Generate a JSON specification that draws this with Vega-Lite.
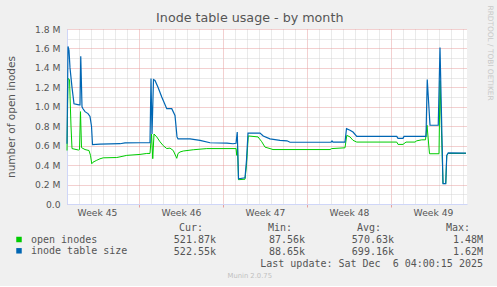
{
"$schema": "https://vega.github.io/schema/vega-lite/v6.json",
"background": "#f0f0f0",
"padding": {"left": 6, "top": 5, "right": 4, "bottom": 6},
"config": {"view": {"stroke": null}, "font": "DejaVu Sans"},
"title": {"text": "Munin 2.0.75", "orient": "bottom", "anchor": "middle", "frame": "bounds", "font": "DejaVu Sans", "fontSize": 6.8, "fontWeight": "normal", "color": "#c0c0c0", "offset": 3},
"bounds": "flush",
"spacing": 18,
"datasets": {
"series": [
{"t":"2025-11-04T00:00:00Z","s":"inode table size","v":620000},
{"t":"2025-11-04T02:00:00Z","s":"inode table size","v":1620000},
{"t":"2025-11-04T04:00:00Z","s":"inode table size","v":1580000},
{"t":"2025-11-04T06:00:00Z","s":"inode table size","v":1400000},
{"t":"2025-11-04T10:00:00Z","s":"inode table size","v":1200000},
{"t":"2025-11-04T14:00:00Z","s":"inode table size","v":1030000},
{"t":"2025-11-05T00:00:00Z","s":"inode table size","v":1020000},
{"t":"2025-11-05T02:00:00Z","s":"inode table size","v":1020000},
{"t":"2025-11-05T03:30:00Z","s":"inode table size","v":1520000},
{"t":"2025-11-05T06:00:00Z","s":"inode table size","v":1000000},
{"t":"2025-11-05T08:00:00Z","s":"inode table size","v":980000},
{"t":"2025-11-05T12:00:00Z","s":"inode table size","v":950000},
{"t":"2025-11-05T18:00:00Z","s":"inode table size","v":930000},
{"t":"2025-11-05T22:00:00Z","s":"inode table size","v":900000},
{"t":"2025-11-06T01:00:00Z","s":"inode table size","v":800000},
{"t":"2025-11-06T03:00:00Z","s":"inode table size","v":610000},
{"t":"2025-11-06T18:00:00Z","s":"inode table size","v":615000},
{"t":"2025-11-07T14:00:00Z","s":"inode table size","v":618000},
{"t":"2025-11-08T10:00:00Z","s":"inode table size","v":620000},
{"t":"2025-11-08T20:00:00Z","s":"inode table size","v":628000},
{"t":"2025-11-10T02:00:00Z","s":"inode table size","v":630000},
{"t":"2025-11-10T22:00:00Z","s":"inode table size","v":630000},
{"t":"2025-11-11T00:00:00Z","s":"inode table size","v":1290000},
{"t":"2025-11-11T02:00:00Z","s":"inode table size","v":720000},
{"t":"2025-11-11T05:00:00Z","s":"inode table size","v":1280000},
{"t":"2025-11-11T08:00:00Z","s":"inode table size","v":1270000},
{"t":"2025-11-11T14:00:00Z","s":"inode table size","v":1200000},
{"t":"2025-11-11T21:30:00Z","s":"inode table size","v":1100000},
{"t":"2025-11-12T07:30:00Z","s":"inode table size","v":980000},
{"t":"2025-11-12T17:30:00Z","s":"inode table size","v":980000},
{"t":"2025-11-13T00:00:00Z","s":"inode table size","v":910000},
{"t":"2025-11-13T04:00:00Z","s":"inode table size","v":690000},
{"t":"2025-11-13T06:00:00Z","s":"inode table size","v":670000},
{"t":"2025-11-14T06:00:00Z","s":"inode table size","v":670000},
{"t":"2025-11-15T02:00:00Z","s":"inode table size","v":655000},
{"t":"2025-11-15T22:00:00Z","s":"inode table size","v":630000},
{"t":"2025-11-17T08:00:00Z","s":"inode table size","v":627000},
{"t":"2025-11-17T20:00:00Z","s":"inode table size","v":620000},
{"t":"2025-11-18T02:00:00Z","s":"inode table size","v":625000},
{"t":"2025-11-18T04:30:00Z","s":"inode table size","v":740000},
{"t":"2025-11-18T07:00:00Z","s":"inode table size","v":260000},
{"t":"2025-11-18T20:00:00Z","s":"inode table size","v":270000},
{"t":"2025-11-18T23:00:00Z","s":"inode table size","v":450000},
{"t":"2025-11-19T02:00:00Z","s":"inode table size","v":730000},
{"t":"2025-11-20T02:00:00Z","s":"inode table size","v":730000},
{"t":"2025-11-20T08:30:00Z","s":"inode table size","v":700000},
{"t":"2025-11-20T22:00:00Z","s":"inode table size","v":670000},
{"t":"2025-11-21T18:00:00Z","s":"inode table size","v":655000},
{"t":"2025-11-22T08:00:00Z","s":"inode table size","v":650000},
{"t":"2025-11-22T14:00:00Z","s":"inode table size","v":635000},
{"t":"2025-11-26T00:00:00Z","s":"inode table size","v":637000},
{"t":"2025-11-26T02:00:00Z","s":"inode table size","v":648000},
{"t":"2025-11-26T04:00:00Z","s":"inode table size","v":637000},
{"t":"2025-11-27T04:00:00Z","s":"inode table size","v":637000},
{"t":"2025-11-27T07:00:00Z","s":"inode table size","v":775000},
{"t":"2025-11-27T14:00:00Z","s":"inode table size","v":758000},
{"t":"2025-11-27T20:00:00Z","s":"inode table size","v":740000},
{"t":"2025-11-28T03:30:00Z","s":"inode table size","v":695000},
{"t":"2025-12-01T11:30:00Z","s":"inode table size","v":695000},
{"t":"2025-12-01T14:00:00Z","s":"inode table size","v":675000},
{"t":"2025-12-02T00:00:00Z","s":"inode table size","v":675000},
{"t":"2025-12-02T02:00:00Z","s":"inode table size","v":695000},
{"t":"2025-12-03T22:00:00Z","s":"inode table size","v":695000},
{"t":"2025-12-04T00:30:00Z","s":"inode table size","v":1280000},
{"t":"2025-12-04T06:00:00Z","s":"inode table size","v":810000},
{"t":"2025-12-04T22:30:00Z","s":"inode table size","v":810000},
{"t":"2025-12-05T02:00:00Z","s":"inode table size","v":1610000},
{"t":"2025-12-05T08:00:00Z","s":"inode table size","v":210000},
{"t":"2025-12-05T13:30:00Z","s":"inode table size","v":210000},
{"t":"2025-12-05T15:30:00Z","s":"inode table size","v":500000},
{"t":"2025-12-05T18:30:00Z","s":"inode table size","v":525000},
{"t":"2025-12-07T06:00:00Z","s":"inode table size","v":523000},
{"t":"2025-11-04T00:00:00Z","s":"open inodes","v":550000},
{"t":"2025-11-04T02:00:00Z","s":"open inodes","v":1290000},
{"t":"2025-11-04T05:00:00Z","s":"open inodes","v":1280000},
{"t":"2025-11-04T08:00:00Z","s":"open inodes","v":800000},
{"t":"2025-11-04T10:00:00Z","s":"open inodes","v":570000},
{"t":"2025-11-04T23:00:00Z","s":"open inodes","v":555000},
{"t":"2025-11-05T01:00:00Z","s":"open inodes","v":560000},
{"t":"2025-11-05T03:00:00Z","s":"open inodes","v":950000},
{"t":"2025-11-05T05:00:00Z","s":"open inodes","v":580000},
{"t":"2025-11-05T12:00:00Z","s":"open inodes","v":560000},
{"t":"2025-11-05T20:00:00Z","s":"open inodes","v":550000},
{"t":"2025-11-05T23:00:00Z","s":"open inodes","v":500000},
{"t":"2025-11-06T01:30:00Z","s":"open inodes","v":414000},
{"t":"2025-11-06T04:00:00Z","s":"open inodes","v":430000},
{"t":"2025-11-06T11:30:00Z","s":"open inodes","v":450000},
{"t":"2025-11-06T18:00:00Z","s":"open inodes","v":465000},
{"t":"2025-11-07T00:30:00Z","s":"open inodes","v":475000},
{"t":"2025-11-08T03:30:00Z","s":"open inodes","v":478000},
{"t":"2025-11-08T10:00:00Z","s":"open inodes","v":485000},
{"t":"2025-11-08T23:30:00Z","s":"open inodes","v":500000},
{"t":"2025-11-10T02:00:00Z","s":"open inodes","v":510000},
{"t":"2025-11-10T15:30:00Z","s":"open inodes","v":520000},
{"t":"2025-11-10T22:00:00Z","s":"open inodes","v":520000},
{"t":"2025-11-11T01:00:00Z","s":"open inodes","v":720000},
{"t":"2025-11-11T03:30:00Z","s":"open inodes","v":466000},
{"t":"2025-11-11T06:00:00Z","s":"open inodes","v":720000},
{"t":"2025-11-11T11:30:00Z","s":"open inodes","v":690000},
{"t":"2025-11-11T18:00:00Z","s":"open inodes","v":640000},
{"t":"2025-11-12T00:30:00Z","s":"open inodes","v":600000},
{"t":"2025-11-12T07:30:00Z","s":"open inodes","v":570000},
{"t":"2025-11-12T14:00:00Z","s":"open inodes","v":575000},
{"t":"2025-11-12T20:30:00Z","s":"open inodes","v":550000},
{"t":"2025-11-13T03:30:00Z","s":"open inodes","v":470000},
{"t":"2025-11-13T06:00:00Z","s":"open inodes","v":520000},
{"t":"2025-11-13T10:00:00Z","s":"open inodes","v":535000},
{"t":"2025-11-13T16:30:00Z","s":"open inodes","v":545000},
{"t":"2025-11-14T12:30:00Z","s":"open inodes","v":558000},
{"t":"2025-11-15T15:30:00Z","s":"open inodes","v":570000},
{"t":"2025-11-18T02:00:00Z","s":"open inodes","v":570000},
{"t":"2025-11-18T03:30:00Z","s":"open inodes","v":500000},
{"t":"2025-11-18T05:00:00Z","s":"open inodes","v":600000},
{"t":"2025-11-18T07:00:00Z","s":"open inodes","v":250000},
{"t":"2025-11-18T20:00:00Z","s":"open inodes","v":255000},
{"t":"2025-11-18T23:00:00Z","s":"open inodes","v":400000},
{"t":"2025-11-19T02:30:00Z","s":"open inodes","v":700000},
{"t":"2025-11-19T22:00:00Z","s":"open inodes","v":690000},
{"t":"2025-11-20T05:30:00Z","s":"open inodes","v":640000},
{"t":"2025-11-20T12:00:00Z","s":"open inodes","v":585000},
{"t":"2025-11-20T22:00:00Z","s":"open inodes","v":570000},
{"t":"2025-11-21T04:00:00Z","s":"open inodes","v":560000},
{"t":"2025-11-25T22:00:00Z","s":"open inodes","v":560000},
{"t":"2025-11-26T01:30:00Z","s":"open inodes","v":570000},
{"t":"2025-11-27T04:00:00Z","s":"open inodes","v":578000},
{"t":"2025-11-27T07:30:00Z","s":"open inodes","v":706000},
{"t":"2025-11-27T14:00:00Z","s":"open inodes","v":690000},
{"t":"2025-11-27T20:00:00Z","s":"open inodes","v":655000},
{"t":"2025-11-28T03:30:00Z","s":"open inodes","v":637000},
{"t":"2025-12-01T11:30:00Z","s":"open inodes","v":637000},
{"t":"2025-12-01T14:00:00Z","s":"open inodes","v":613000},
{"t":"2025-12-02T00:00:00Z","s":"open inodes","v":613000},
{"t":"2025-12-02T06:00:00Z","s":"open inodes","v":637000},
{"t":"2025-12-03T00:00:00Z","s":"open inodes","v":637000},
{"t":"2025-12-03T03:30:00Z","s":"open inodes","v":650000},
{"t":"2025-12-03T13:30:00Z","s":"open inodes","v":660000},
{"t":"2025-12-03T21:00:00Z","s":"open inodes","v":660000},
{"t":"2025-12-04T00:00:00Z","s":"open inodes","v":810000},
{"t":"2025-12-04T05:00:00Z","s":"open inodes","v":517000},
{"t":"2025-12-05T00:00:00Z","s":"open inodes","v":517000},
{"t":"2025-12-05T02:00:00Z","s":"open inodes","v":1270000},
{"t":"2025-12-05T08:00:00Z","s":"open inodes","v":210000},
{"t":"2025-12-05T13:30:00Z","s":"open inodes","v":210000},
{"t":"2025-12-05T15:30:00Z","s":"open inodes","v":500000},
{"t":"2025-12-05T18:30:00Z","s":"open inodes","v":520000},
{"t":"2025-12-07T06:00:00Z","s":"open inodes","v":521000}
],
"footer": [
{"row":"header","col":"cur","text":"Cur:"},
{"row":"header","col":"min","text":"Min:"},
{"row":"header","col":"avg","text":"Avg:"},
{"row":"header","col":"max","text":"Max:"},
{"row":"open inodes","col":"cur","text":"521.87k"},
{"row":"open inodes","col":"min","text":"87.56k"},
{"row":"open inodes","col":"avg","text":"570.63k"},
{"row":"open inodes","col":"max","text":"1.48M"},
{"row":"inode table size","col":"cur","text":"522.55k"},
{"row":"inode table size","col":"min","text":"88.65k"},
{"row":"inode table size","col":"avg","text":"699.16k"},
{"row":"inode table size","col":"max","text":"1.62M"},
{"row":"update","col":"max","text":"Last update: Sat Dec\u00a0 6 04:00:15 2025"}
]
},
"vconcat": [
{
"width": 400,
"height": 175,
"view": {"fill": "#ffffff", "stroke": null},
"title": {"text": "Inode table usage - by month", "font": "DejaVu Sans", "fontSize": 12.7, "fontWeight": "normal", "color": "#555555", "anchor": "middle", "frame": "bounds", "baseline": "alphabetic", "offset": -29.6},
"data": {"name": "series"},
"encoding": {
"x": {"field": "t", "type": "temporal", "title": null,
"scale": {"type": "utc", "domain": [1762214400000, 1765094400000]},
"axis": {
"values": [1762214400000,1762300800000,1762387200000,1762473600000,1762560000000,1762646400000,1762732800000,1762819200000,1762905600000,1762992000000,1763078400000,1763164800000,1763251200000,1763337600000,1763424000000,1763510400000,1763596800000,1763683200000,1763769600000,1763856000000,1763942400000,1764028800000,1764115200000,1764201600000,1764288000000,1764374400000,1764460800000,1764547200000,1764633600000,1764720000000,1764806400000,1764892800000,1764979200000,1765065600000,1762430400000,1763035200000,1763640000000,1764244800000,1764849600000],
"labelExpr": "utchours(datum.value) == 12 ? 'Week ' + utcFormat(datum.value, '%V') : ''",
"labelFont": "DejaVu Sans", "labelFontSize": 9.2, "labelColor": "#555555", "labelPadding": 1, "labelFlush": false, "labelOverlap": false,
"grid": true, "gridDash": [1, 1],
"gridColor": {"condition": {"test": "utcday(datum.value) == 1 && utchours(datum.value) == 0", "value": "#e6a0a0"}, "value": "#d4d4d4"},
"gridOpacity": {"condition": {"test": "utchours(datum.value) == 12", "value": 0}, "value": 1},
"tickSize": 3,
"tickColor": {"condition": {"test": "utcday(datum.value) == 1 && utchours(datum.value) == 0", "value": "#e6a0a0"}, "value": "transparent"},
"domainColor": "#cfd6f8"
}
},
"color": {"field": "s", "type": "nominal",
"scale": {"domain": ["open inodes", "inode table size"], "range": ["#00cc00", "#0066b3"]},
"legend": {"orient": "none", "legendX": -53, "legendY": 205.5, "title": null, "padding": 0, "direction": "vertical",
"symbolType": "square", "symbolSize": 30, "symbolStrokeWidth": 0,
"labelFont": "DejaVu Sans Mono", "labelFontSize": 10, "labelColor": "#555555", "labelOffset": 7, "rowPadding": 1.3,
"encode": {"symbols": {"update": {"fill": {"scale": "color", "field": "value"}, "stroke": {"value": "transparent"}}}}
}
}
},
"layer": [
{
"transform": [{"filter": "datum.s == 'open inodes'"}],
"mark": {"type": "line", "strokeWidth": 1, "interpolate": "linear"},
"encoding": {
"y": {"field": "v", "type": "quantitative",
"scale": {"domain": [0, 1800000], "nice": false, "zero": true},
"axis": {"orient": "left",
"values": [0,100000,200000,300000,400000,500000,600000,700000,800000,900000,1000000,1100000,1200000,1300000,1400000,1500000,1600000,1700000,1800000],
"labelExpr": "round(datum.value / 100000) % 2 == 0 ? (datum.value == 0 ? '0.0' : format(datum.value / 1000000, '.1f') + ' M') : ''",
"ticks": false, "labelPadding": 7, "labelFont": "DejaVu Sans", "labelFontSize": 9.2, "labelColor": "#555555", "labelOverlap": false,
"title": "number of open inodes", "titleFont": "DejaVu Sans", "titleFontSize": 10.5, "titleFontWeight": "normal", "titleColor": "#555555", "titlePadding": 18,
"grid": true, "gridDash": [1, 1],
"gridColor": {"condition": {"test": "round(datum.value / 100000) % 2 == 0", "value": "#e6a0a0"}, "value": "#d4d4d4"},
"domainColor": "#cfd6f8"
}
}
}
},
{
"transform": [{"filter": "datum.s == 'inode table size'"}],
"mark": {"type": "line", "strokeWidth": 1.2, "interpolate": "linear"},
"encoding": {
"y": {"field": "v", "type": "quantitative",
"scale": {"domain": [0, 1800000], "nice": false, "zero": true},
"axis": {"orient": "right", "title": "RRDTOOL / TOBI OETIKER", "labels": false, "ticks": false, "domain": false, "grid": false,
"titleAngle": 90, "titleFont": "DejaVu Sans", "titleFontSize": 7.4, "titleFontWeight": "normal", "titleColor": "#c8c8c8",
"titleAlign": "left", "titleBaseline": "middle", "titleX": 22, "titleY": -24}
}
}
},
{
"data": {"values": [{"arrow": "y"}]},
"mark": {"type": "point", "shape": "triangle-up", "filled": true, "size": 22, "yOffset": -5, "opacity": 1},
"encoding": {
"x": {"datum": 1762214400000, "type": "temporal"},
"y": {"datum": 1800000, "type": "quantitative", "axis": null},
"color": {"value": "#cfd6f8"}
}
},
{
"data": {"values": [{"arrow": "x"}]},
"mark": {"type": "point", "shape": "triangle-right", "filled": true, "size": 22, "xOffset": 4, "opacity": 1},
"encoding": {
"x": {"datum": 1765094400000, "type": "temporal"},
"y": {"datum": 0, "type": "quantitative", "axis": null},
"color": {"value": "#cfd6f8"}
}
}
],
"resolve": {"axis": {"y": "independent"}}
},
{
"width": 400,
"height": 48,
"view": {"stroke": null, "fill": null},
"data": {"name": "footer"},
"encoding": {
"x": {"field": "col", "type": "nominal", "scale": {"type": "point", "domain": ["cur", "min", "avg", "max"], "range": [149, 416], "padding": 0}, "axis": null},
"y": {"field": "row", "type": "nominal", "scale": {"type": "point", "domain": ["header", "open inodes", "inode table size", "update"], "padding": 0.5}, "axis": null},
"text": {"field": "text"}
},
"layer": [
{"transform": [{"filter": "datum.row == 'header'"}],
"mark": {"type": "text", "align": "right", "baseline": "middle", "dx": -13, "font": "DejaVu Sans Mono", "fontSize": 10, "color": "#555555"}},
{"transform": [{"filter": "datum.row != 'header'"}],
"mark": {"type": "text", "align": "right", "baseline": "middle", "font": "DejaVu Sans Mono", "fontSize": 10, "color": "#555555"}}
]
}
]
}
